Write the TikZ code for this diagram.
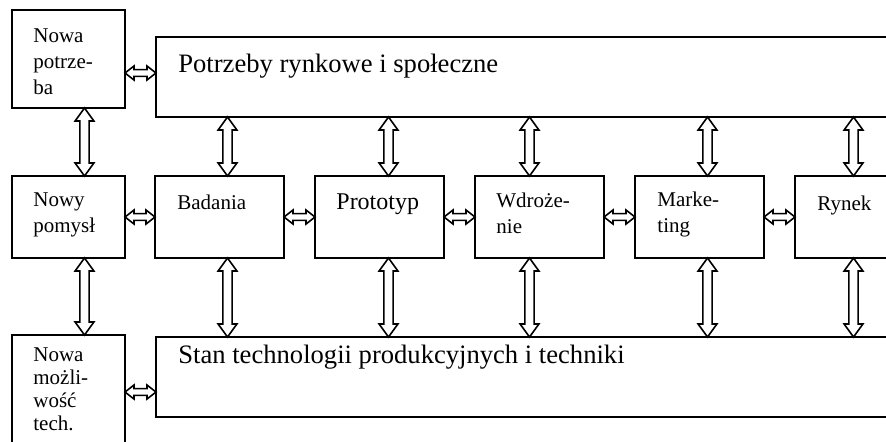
\documentclass[tikz,border=0pt]{standalone}
\usepackage{fontspec}
\setmainfont{Liberation Serif}
\usepackage{tikz}
\usetikzlibrary{positioning,calc}
\tikzset{
  box/.style={draw,line width=1pt,inner sep=0pt,outer sep=0pt,
    minimum width=64.5pt,minimum height=41pt},
  sidebox/.style={box,minimum width=56.5pt},
  bar/.style={box,minimum width=372pt,minimum height=40pt},
  txt/.style={anchor=north west,inner sep=0pt,align=left,
    font=\fontsize{10.5}{13}\selectfont},
  bigtxt/.style={txt,font=\fontsize{13.3}{16}\selectfont},
  dbl/.style n args={3}{line width=0.8pt,line join=miter,to path={
    let \p1=(\tikztostart),\p2=(\tikztotarget),
      \n1={atan2(\y2-\y1,\x2-\x1)},\n2={veclen(\x2-\x1,\y2-\y1)} in
    (\p1) -- ($(\p1)+(\n1:#1)+(\n1+90:#2)$) -- ($(\p1)+(\n1:#1)+(\n1+90:#3)$)
    -- ($(\p1)+(\n1:\n2-#1)+(\n1+90:#3)$) -- ($(\p1)+(\n1:\n2-#1)+(\n1+90:#2)$)
    -- (\p2) -- ($(\p1)+(\n1:\n2-#1)+(\n1-90:#2)$) -- ($(\p1)+(\n1:\n2-#1)+(\n1-90:#3)$)
    -- ($(\p1)+(\n1:#1)+(\n1-90:#3)$) -- ($(\p1)+(\n1:#1)+(\n1-90:#2)$) -- cycle}},
  vdbl/.style={dbl={6.5pt}{4.7pt}{2.3pt}},
  hdbl/.style={dbl={4.5pt}{3.5pt}{1.7pt}}}

\begin{document}
\begin{tikzpicture}[x=0.5pt,y=-0.5pt]
  \useasboundingbox (0,0) rectangle (886,441);
  \node[sidebox,minimum height=49pt,label={[txt,xshift=10.5pt,yshift=-9pt]north west:Nowa\\potrze-\\ba}] (npot) at (68.5,59) {};
  \node[sidebox,label={[txt,xshift=10.5pt,yshift=-8pt]north west:Nowy\\pomysł}] (npom) at (68.5,217) {};
  \node[sidebox,anchor=north,minimum height=60pt,label={[txt,font=\fontsize{10.5}{11.5}\selectfont,xshift=10.5pt,yshift=-6pt]north west:Nowa\\możli-\\wość\\tech.}] (npos) at (68.5,335) {};
  \node[box,right=15pt of npom,label={[txt,xshift=11pt,yshift=-9.5pt]north west:Badania}] (bad) {};
  \node[box,right=15.5pt of bad,label={[txt,font=\fontsize{12}{14}\selectfont,xshift=10.5pt,yshift=-8.5pt]north west:Prototyp}] (pro) {};
  \node[box,right=15.5pt of pro,label={[txt,xshift=10.5pt,yshift=-8.5pt]north west:Wdroże-\\nie}] (wdr) {};
  \node[box,right=15.5pt of wdr,label={[txt,xshift=11pt,yshift=-8pt]north west:Marke-\\ting}] (mar) {};
  \node[box,right=15.5pt of mar,label={[txt,xshift=11pt,yshift=-10pt]north west:Rynek}] (ryn) {};
  \node[bar,anchor=north west,label={[bigtxt,xshift=11pt,yshift=-8.5pt]north west:Potrzeby rynkowe i społeczne}] (tbar) at (156,37) {};
  \node[bar,anchor=north west,label={[bigtxt,xshift=11pt,yshift=-4pt]north west:Stan technologii produkcyjnych i techniki}] (bbar) at (156,337) {};
  \draw[hdbl] ([yshift=-7pt]npot.east) to ([yshift=-7pt]npot.east-|tbar.west);
  \draw[hdbl] (npom.east) to (bad.west);\draw[hdbl] (bad.east) to (pro.west);
  \draw[hdbl] (pro.east) to (wdr.west);\draw[hdbl] (wdr.east) to (mar.west);
  \draw[hdbl] (mar.east) to (ryn.west);
  \draw[hdbl] ([yshift=-7.5pt]bbar.west-|npos.east) to ([yshift=-7.5pt]bbar.west);
  \draw[vdbl] ([xshift=8pt]npot.south) to ([xshift=8pt]npom.north);
  \draw[vdbl] ([xshift=8pt]npom.south) to ([xshift=8pt]npos.north);
  \draw[vdbl] ($(bad.north|-tbar.south)+(4pt,0)$) to ([xshift=4pt]bad.north);
  \draw[vdbl] ($(pro.north|-tbar.south)+(4.5pt,0)$) to ([xshift=4.5pt]pro.north);
  \draw[vdbl] ($(wdr.north|-tbar.south)+(-5pt,0)$) to ([xshift=-5pt]wdr.north);
  \draw[vdbl] ($(mar.north|-tbar.south)+(4pt,0)$) to ([xshift=4pt]mar.north);
  \draw[vdbl] ($(ryn.north|-tbar.south)+(-3pt,0)$) to ([xshift=-3pt]ryn.north);
  \draw[vdbl] ([xshift=4pt]bad.south) to ($(bad.south|-bbar.north)+(4pt,0)$);
  \draw[vdbl] ([xshift=4.5pt]pro.south) to ($(pro.south|-bbar.north)+(4.5pt,0)$);
  \draw[vdbl] ([xshift=-5pt]wdr.south) to ($(wdr.south|-bbar.north)+(-5pt,0)$);
  \draw[vdbl] ([xshift=4pt]mar.south) to ($(mar.south|-bbar.north)+(4pt,0)$);
  \draw[vdbl] ([xshift=-3pt]ryn.south) to ($(ryn.south|-bbar.north)+(-3pt,0)$);
\end{tikzpicture}
\end{document}
